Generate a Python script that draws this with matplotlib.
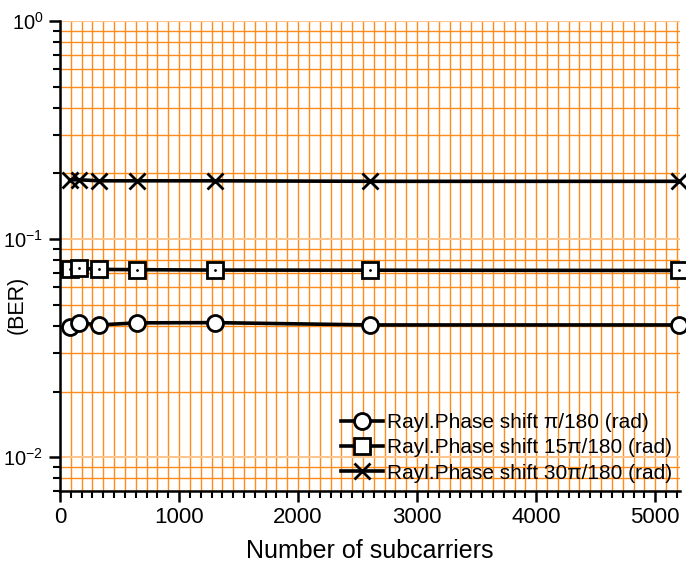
import numpy as np
import matplotlib.pyplot as plt
from matplotlib.ticker import MultipleLocator, LogLocator, NullFormatter, FuncFormatter

plt.rcParams['font.family'] = ['Liberation Sans', 'DejaVu Sans']
plt.rcParams['mathtext.fontset'] = 'custom'
plt.rcParams['mathtext.rm'] = 'Liberation Sans'
plt.rcParams['mathtext.it'] = 'Liberation Sans'
plt.rcParams['mathtext.default'] = 'regular'

# number of subcarriers and BER for each phase shift
subcarriers = [81.25, 162.5, 325, 650, 1300, 2600, 5200]
ber_pi = [0.0396, 0.0413, 0.0404, 0.0413, 0.0414, 0.0404, 0.0404]
ber_15pi = [0.0728, 0.0736, 0.0726, 0.0724, 0.0721, 0.0720, 0.0718]
ber_30pi = [0.187, 0.187, 0.185, 0.185, 0.185, 0.184, 0.184]

labels = ['Rayl.Phase shift \u03c0/180 (rad)',
          'Rayl.Phase shift 15\u03c0/180 (rad)',
          'Rayl.Phase shift 30\u03c0/180 (rad)']


def decade_label(v, pos):
    return '$10^{%d}$' % int(round(np.log10(v)))


fig = plt.figure(figsize=(6.86, 5.66), dpi=100)
ax = fig.add_axes([0.0875, 0.1325, 0.904, 0.8305])

orange = '#ff8c1a'
ax.set_yscale('log')
ax.set_xlim(0, 5210)
ax.set_ylim(0.007, 1)

ax.xaxis.set_major_locator(MultipleLocator(1000))
ax.xaxis.set_minor_locator(MultipleLocator(1000 / 11))
ax.yaxis.set_major_locator(LogLocator(base=10))
ax.yaxis.set_major_formatter(FuncFormatter(decade_label))
ax.yaxis.set_minor_locator(LogLocator(base=10, subs=np.arange(2, 10)))
ax.yaxis.set_minor_formatter(NullFormatter())

ax.grid(True, which='minor', color=orange, lw=1.0)
ax.grid(True, which='major', axis='x', color=orange, lw=1.0)
ax.grid(True, which='major', axis='y', color='#ffc58c', lw=1.5)
ax.set_axisbelow(True)

common = dict(color='black', lw=2.6, mec='black', mfc='white', mew=2, clip_on=False)
ax.plot(subcarriers, ber_pi, marker='o', ms=11.5, label=labels[0], **common)
ax.plot(subcarriers, ber_15pi, marker='s', ms=11, label=labels[1], **common)
ax.plot(subcarriers, ber_30pi, marker='x', ms=12, label=labels[2], **common)
# small dot in the middle of the squares
ax.plot(subcarriers, ber_15pi, ls='none', marker='.', ms=2, color='black')

for s in ['top', 'right']:
    ax.spines[s].set_visible(False)
for s in ['left', 'bottom']:
    ax.spines[s].set_linewidth(1.8)

ax.tick_params(which='major', direction='out', length=8, width=1.8, labelsize=16)
ax.tick_params(which='minor', direction='out', length=5, width=1.5)
ax.tick_params(axis='y', which='major', labelsize=14.5, pad=4)

ax.set_xlabel('Number of subcarriers', fontsize=18, labelpad=8)
ax.set_ylabel('(BER)', fontsize=15.5)
ax.yaxis.set_label_coords(-0.052, 0.396)

leg = ax.legend(loc='lower right', frameon=False, fontsize=15,
                handlelength=2.0, handletextpad=0.2, labelspacing=0.3,
                borderaxespad=0.0, bbox_to_anchor=(1.0, 0.0))

fig.savefig('out.png', dpi=100)
